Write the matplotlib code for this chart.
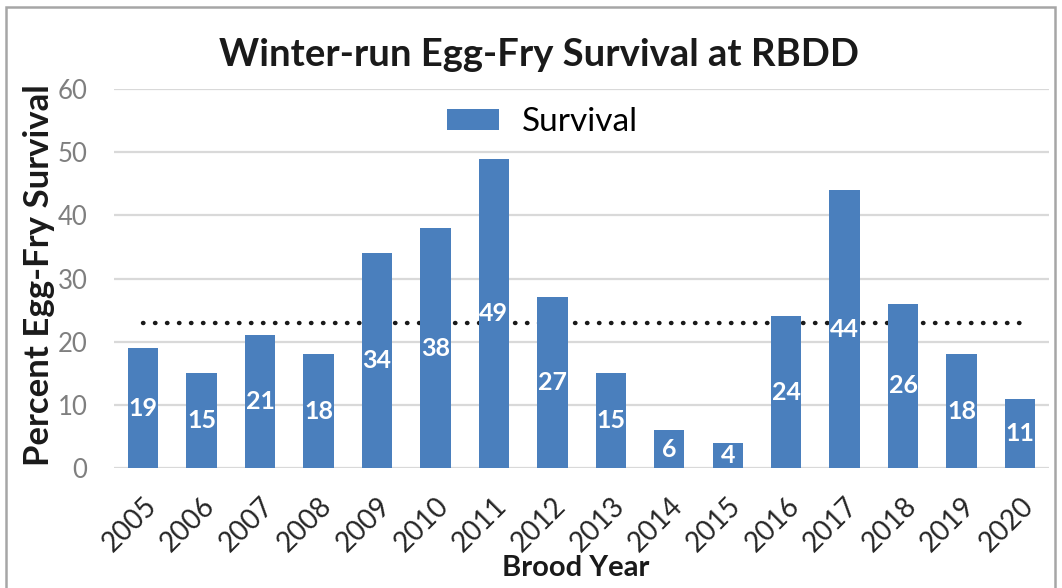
import matplotlib
matplotlib.use("Agg")
import matplotlib.pyplot as plt
from matplotlib.patches import Rectangle

years = ["2005", "2006", "2007", "2008", "2009", "2010", "2011", "2012",
         "2013", "2014", "2015", "2016", "2017", "2018", "2019", "2020"]
survival = [19, 15, 21, 18, 34, 38, 49, 27, 15, 6, 4, 24, 44, 26, 18, 11]
average = 23

plt.rcParams['font.family'] = ['Lato', 'DejaVu Sans']

fig = plt.figure(figsize=(10.62, 5.88), dpi=100)
ax = fig.add_axes([0.1073, 0.204, 0.8807, 0.6446])

x = list(range(len(years)))
bars = ax.bar(x, survival, width=0.52, color='#4a7fbd', zorder=3, label='Survival')
ax.plot([x[0], x[-1]], [average, average], linestyle=(0, (0.1, 2.6)), color='#1a1a1a',
        linewidth=3.2, dash_capstyle='round', zorder=2)

for xi, v in zip(x, survival):
    ax.text(xi, v / 2, str(v), ha='center', va='center', color='white',
            fontsize=18, fontweight='bold', zorder=4)

ax.set_xlim(-0.5, len(years) - 0.5)
ax.set_ylim(0, 60)
ax.set_yticks(range(0, 61, 10))
ax.set_xticks(x)
ax.set_xticklabels(years, rotation=45, ha='right', rotation_mode='anchor',
                   fontsize=20, color='#262626')
ax.tick_params(axis='y', labelsize=18.5, labelcolor='#7f7f7f', length=0, pad=19)
ax.tick_params(axis='x', length=0, pad=18)
ax.grid(axis='y', color='#d9d9d9', linewidth=1.6, zorder=0)
ax.set_axisbelow(True)
for s in ax.spines.values():
    s.set_visible(False)

fig.text(0.508, 0.906, "Winter-run Egg-Fry Survival at RBDD", ha='center', va='center',
         fontsize=27.5, fontweight='bold', color='#1a1a1a')
fig.text(0.037, 0.532, "Percent Egg-Fry Survival", ha='center', va='center',
         rotation=90, fontsize=25, fontweight='bold', color='#1a1a1a')
fig.text(0.542, 0.034, "Brood Year", ha='center', va='center',
         fontsize=21, fontweight='bold', color='#1a1a1a')

leg = ax.legend(loc='center', bbox_to_anchor=(0.458, 0.913), frameon=False,
                fontsize=24, handlelength=1.55, handleheight=0.6, handletextpad=0.69)

fig.patches.append(Rectangle((6 / 1062, -0.02), 1049 / 1062, 1 - 7 / 588 + 0.02,
                             transform=fig.transFigure, fill=False,
                             edgecolor='#a6a6a6', linewidth=1.8))

fig.savefig("out.png", dpi=100)
